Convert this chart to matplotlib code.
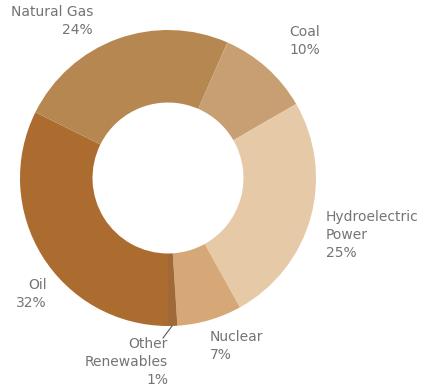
import matplotlib
matplotlib.use("Agg")
import matplotlib.pyplot as plt

# energy mix (clockwise from the bottom)
sources = ["Oil", "Natural Gas", "Coal", "Hydroelectric\nPower", "Nuclear", "Other\nRenewables"]
shares = [32, 24, 10, 25, 7, 1]
colors = ["#ac6c2f", "#b78752", "#c89f72", "#e6c9a7", "#d6a877", "#a06a38"]

fig = plt.figure(figsize=(4.25, 3.88), dpi=100)
ax = fig.add_axes([20 / 425, 62 / 388, 296 / 425, 296 / 388])

ax.pie(shares, colors=colors, startangle=-90, counterclock=False,
       radius=1.0, wedgeprops=dict(width=0.49, linewidth=0))
ax.set_xlim(-1, 1)
ax.set_ylim(-1, 1)
ax.set_aspect("equal")
ax.axis("off")

# label positions in pixels of the reference, converted to data units
cx, cy, r = 168, 178, 148
def to_data(px, py):
    return (px - cx) / r, (cy - py) / r

labels = [
    ("Natural Gas\n24%", 93, 21, "right"),
    ("Coal\n10%", 289, 41, "left"),
    ("Hydroelectric\nPower\n25%", 326, 235, "left"),
    ("Oil\n32%", 47, 294, "right"),
    ("Other\nRenewables\n1%", 168, 362, "right"),
    ("Nuclear\n7%", 210, 346, "left"),
]
for txt, px, py, ha in labels:
    x, y = to_data(px, py)
    ax.text(x, y, txt, ha=ha, va="center", fontsize=10, color="#747474",
            linespacing=1.33, clip_on=False, multialignment=ha)

# leader line for the thin slice
x0, y0 = to_data(172, 326)
x1, y1 = to_data(163, 338)
ax.plot([x0, x1], [y0, y1], color="#555555", lw=0.8, clip_on=False)

fig.savefig("out.png", dpi=100)
